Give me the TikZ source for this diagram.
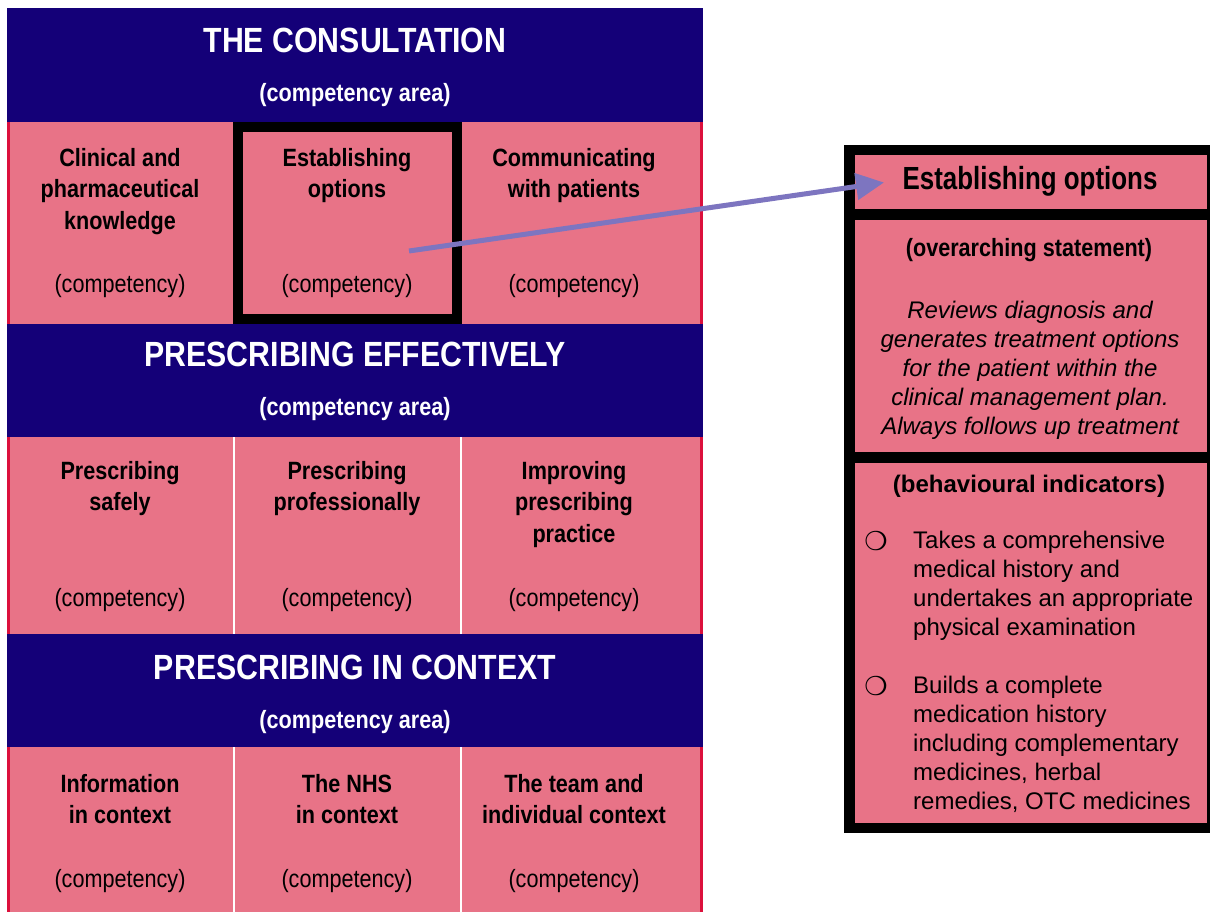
\documentclass[tikz,border=0pt]{standalone}
\usepackage{fontspec}
\setmainfont{Liberation Sans}
\newfontfamily\narrowfont[FakeStretch=0.865]{Liberation Sans}
\newfontfamily\headfont[FakeStretch=0.81]{Liberation Sans}
\newfontfamily\dingfont{DejaVu Sans}
\usetikzlibrary{arrows.meta}

\definecolor{areanavy}{RGB}{20,0,120}
\definecolor{cellpink}{RGB}{232,115,135}
\definecolor{edgered}{RGB}{220,16,60}
\definecolor{arrowlilac}{RGB}{125,117,192}

\begin{document}
\begin{tikzpicture}[x=1pt,y=-1pt,
  areaband/.style={fill=areanavy},
  cellfill/.style={fill=cellpink},
  areatitle/.style={anchor=base, text=white, inner sep=0pt,
    font=\narrowfont\bfseries\fontsize{35}{40}\selectfont},
  areasub/.style={anchor=base, text=white, inner sep=0pt,
    font=\narrowfont\bfseries\fontsize{25}{30}\selectfont},
  celltitle/.style={anchor=north, align=center, inner sep=0pt,
    font=\narrowfont\bfseries\fontsize{25}{31.7}\selectfont},
  celltag/.style={anchor=base, inner sep=0pt,
    font=\narrowfont\fontsize{25}{30}\selectfont},
  sephead/.style={anchor=base, inner sep=0pt,
    font=\headfont\bfseries\fontsize{32}{38}\selectfont},
  sepsub/.style={anchor=base, inner sep=0pt,
    font=\narrowfont\bfseries\fontsize{25}{30}\selectfont},
  stmttext/.style={anchor=north, align=center, inner sep=0pt,
    font=\itshape\fontsize{24}{29}\selectfont},
  indhead/.style={anchor=base, inner sep=0pt,
    font=\bfseries\fontsize{24}{29}\selectfont},
  itemtext/.style={anchor=north west, align=left, inner sep=0pt,
    font=\fontsize{24}{29}\selectfont},
  bulletmark/.style={inner sep=0pt, font=\dingfont\fontsize{26}{30}\selectfont},
  whitesep/.style={draw=white, line width=2.2pt},
  rededge/.style={draw=edgered, line width=2.6pt},
  link/.style={draw=arrowlilac, line width=5pt, -{Triangle[length=28pt,width=26pt]}}
]
\useasboundingbox (0,0) rectangle (1210,911);
\fill[white] (0,0) rectangle (1210,911);

% ---- competency grid ----
\fill[areaband] (7,8) rectangle (703,122);
\fill[cellfill] (7,122) rectangle (703,324);
\fill[areaband] (7,324) rectangle (703,437);
\fill[cellfill] (7,437) rectangle (703,634);
\fill[areaband] (7,634) rectangle (703,747);
\fill[cellfill] (7,747) rectangle (703,915);

% outer red edges of the pink rows
\foreach \ya/\yb in {122/324, 437/634, 747/915}{
  \draw[rededge] (8.3,\ya) -- (8.3,\yb);
  \draw[rededge] (701.7,\ya) -- (701.7,\yb);
}
% white column rules
\foreach \ya/\yb in {437/634, 747/915}{
  \draw[whitesep] (234,\ya) -- (234,\yb);
  \draw[whitesep] (461,\ya) -- (461,\yb);
}
% highlighted competency frame
\draw[line width=10pt] (238,127) rectangle (457,319);

% area titles
\node[areatitle] (a1) at (355,52) {THE CONSULTATION};
\node[areasub] (a1s) at (355,101) {(competency area)};
\node[areatitle] (a2) at (355,366.5) {PRESCRIBING EFFECTIVELY};
\node[areasub] (a2s) at (355,415.5) {(competency area)};
\node[areatitle] (a3) at (355,679) {PRESCRIBING IN CONTEXT};
\node[areasub] (a3s) at (355,728) {(competency area)};

% row 1
\node[celltitle] (c11) at (120,147.7) {Clinical and\\pharmaceutical\\knowledge};
\node[celltitle] (c12) at (347,147.7) {Establishing\\options};
\node[celltitle] (c13) at (574,147.7) {Communicating\\with patients};
\node[celltag] (t11) at (120,292.7) {(competency)};
\node[celltag] (t12) at (347,292.7) {(competency)};
\node[celltag] (t13) at (574,292.7) {(competency)};

% row 2
\node[celltitle] (c21) at (120,460.7) {Prescribing\\safely};
\node[celltitle] (c22) at (347,460.7) {Prescribing\\professionally};
\node[celltitle] (c23) at (574,460.7) {Improving\\prescribing\\practice};
\node[celltag] (t21) at (120,606.7) {(competency)};
\node[celltag] (t22) at (347,606.7) {(competency)};
\node[celltag] (t23) at (574,606.7) {(competency)};

% row 3
\node[celltitle] (c31) at (120,773.7) {Information\\in context};
\node[celltitle] (c32) at (347,773.7) {The NHS\\in context};
\node[celltitle] (c33) at (574,773.7) {The team and\\individual context};
\node[celltag] (t31) at (120,887.7) {(competency)};
\node[celltag] (t32) at (347,887.7) {(competency)};
\node[celltag] (t33) at (574,887.7) {(competency)};

% ---- competency detail card ----
\fill[black] (844,145) rectangle (1214,833);
\fill[cellfill] (855,155) rectangle (1207,209);
\fill[cellfill] (855,220) rectangle (1207,452);
\fill[cellfill] (855,463) rectangle (1207,823);

\node[sephead] (hd) at (1030,189.5) {Establishing options};
\node[sepsub] (ov) at (1029,256) {(overarching statement)};
\node[stmttext] (st) at (1030,300.8) {Reviews diagnosis and\\generates treatment options\\for the patient within the\\clinical management plan.\\Always follows up treatment};
\node[indhead] (bi) at (1029,492) {(behavioural indicators)};

\node[bulletmark] (b1) at (876,541) {❍};
\node[itemtext] (i1) at (913,530.5) {Takes a comprehensive\\medical history and\\undertakes an appropriate\\physical examination};
\node[bulletmark] (b2) at (876,686) {❍};
\node[itemtext] (i2) at (913,675.5) {Builds a complete\\medication history\\including complementary\\medicines, herbal\\remedies, OTC medicines};

% link from the highlighted competency to its card
\coordinate (linkfrom) at (409,251);
\coordinate (linkto) at (884,182.5);
\draw[link] (linkfrom) -- (linkto);
\end{tikzpicture}
\end{document}
